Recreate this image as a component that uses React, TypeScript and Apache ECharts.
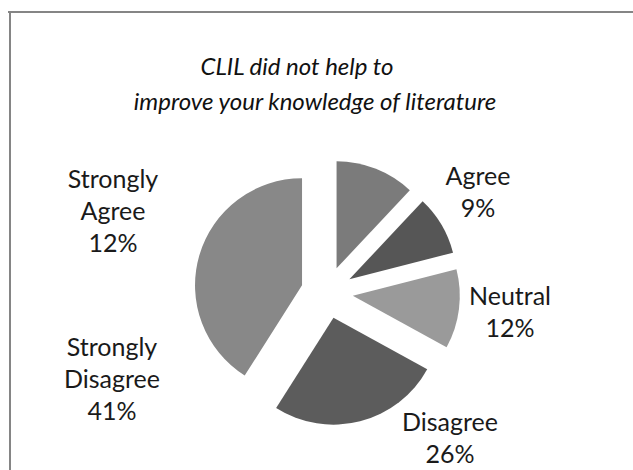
import React, { useEffect, useRef } from "react";
import * as echarts from "echarts";

const titleLines = ["CLIL did not help to", "improve your knowledge of literature"];
const categories = ["Strongly Agree", "Agree", "Neutral", "Disagree", "Strongly Disagree"];
const values = [12, 9, 12, 26, 41];
const colors = ["#7b7b7b", "#565656", "#9a9a9a", "#5c5c5c", "#888888"];

// label block centres (layout only)
const labelPos: Record<string, [number, number]> = {
  "Strongly Agree": [113, 210],
  Agree: [478, 191],
  Neutral: [510, 311],
  Disagree: [450, 437],
  "Strongly Disagree": [112, 378],
};
const titlePos: [number, number][] = [
  [297, 65],
  [315, 100],
];

export default function App() {
  const ref = useRef<HTMLDivElement>(null);
  useEffect(() => {
    if (!ref.current) return;
    const chart = echarts.init(ref.current, undefined, { renderer: "svg" });
    const total = values.reduce((a, b) => a + b, 0);
    chart.setOption({
      animation: false,
      backgroundColor: "#ffffff",
      textStyle: { fontFamily: "Lato" },
      graphic: [
        { type: "line", shape: { x1: 8, y1: 12, x2: 633, y2: 12 }, style: { stroke: "#858585", lineWidth: 2 } },
        { type: "line", shape: { x1: 10, y1: 12, x2: 10, y2: 470 }, style: { stroke: "#858585", lineWidth: 2 } },
        ...titleLines.map((t, i) => ({
          type: "text",
          x: titlePos[i][0],
          y: titlePos[i][1],
          style: {
            text: t,
            fontFamily: "Lato",
            fontStyle: "italic",
            fontSize: 24,
            fill: "#111",
            align: "center",
            verticalAlign: "middle",
          },
        })),
        ...categories.map((c, i) => ({
          type: "text",
          x: labelPos[c][0],
          y: labelPos[c][1],
          style: {
            text: `${c.replace(" ", "\n")}\n${Math.round((values[i] / total) * 100)}%`,
            fontFamily: "Lato",
            fontSize: 25,
            lineHeight: 32,
            fill: "#1a1a1a",
            align: "center",
            verticalAlign: "middle",
          },
        })),
      ],
      series: [
        {
          type: "pie",
          center: [327, 292.5],
          radius: 107,
          startAngle: 90,
          clockwise: true,
          selectedMode: "multiple",
          selectedOffset: 26,
          emphasis: { disabled: true },
          itemStyle: { borderWidth: 0 },
          labelLine: { show: false },
          label: { show: false },
          data: categories.map((c, i) => ({
            name: c,
            value: values[i],
            selected: true,
            itemStyle: { color: colors[i] },
            select: { itemStyle: { color: colors[i] } },
          })),
        },
      ],
    });
    return () => chart.dispose();
  }, []);
  return (
    <div
      ref={ref}
      style={{ position: "fixed", left: 0, top: 0, width: 633, height: 470 }}
    />
  );
}
